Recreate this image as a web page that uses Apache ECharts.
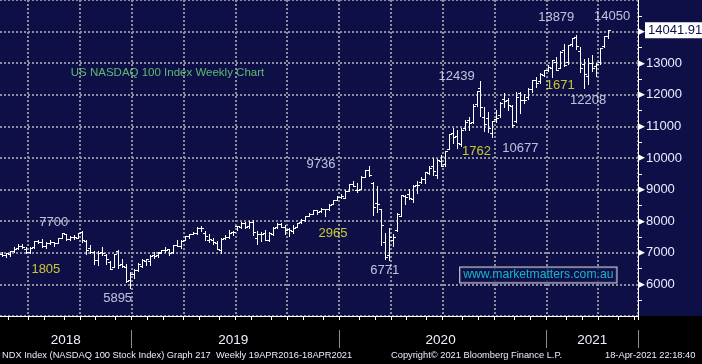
<!DOCTYPE html>
<html><head><meta charset="utf-8">
<script src="https://cdn.jsdelivr.net/npm/echarts/dist/echarts.min.js"></script>
<style>
html,body{margin:0;padding:0;background:#000;}
#c{width:702px;height:364px;background:linear-gradient(to bottom,#0f0f48 0px,#0f0f48 316px,#000 316px,#000 364px);}
</style></head><body><div id="c"></div>
<script>
// Weekly categories: first bar week ending 2018-05-18, plus empty weeks to the right edge
const firstWeek = '2018-05-18';
const padWeeks = 7;

const open = [6975,6945,6975,7060,7140,7220,7120,7040,7170,7360,
7355,7210,7310,7330,7320,7480,7590,7440,7510,7480,
7660,7380,7140,7030,6760,7010,6940,6720,6560,7050,
6640,6540,6150,6320,6450,6580,6740,6750,6930,6920,
7020,7090,7110,7010,7240,7230,7400,7530,7590,7640,
7800,7620,7420,7400,7310,7100,7480,7510,7650,7840,
7830,7950,7860,7990,7480,7580,7640,7390,7610,7820,
7900,7830,7740,7700,7820,7960,8050,8180,8230,8340,
8310,8380,8400,8540,8680,8760,8750,8970,9180,8990,
9030,9400,9620,9220,8570,8380,7350,6940,7400,7720,
8180,8800,8850,8690,9130,9240,9330,9540,9740,9450,
9900,9800,10300,10800,10700,10450,10960,11200,11150,11700,
12200,11300,11260,10800,11230,11360,11870,11830,11630,11170,
12060,11850,11930,12180,12470,12430,12620,12790,12860,13050,
12850,13420,13030,13600,13820,13400,12980,12600,13020,12900,
13050,13540,13860];
const high = [7010,7000,7065,7175,7280,7270,7180,7170,7375,7400,
7440,7330,7400,7350,7470,7630,7610,7530,7560,7640,
7700,7400,7250,7070,7050,7190,6950,6750,6970,7080,
6800,6640,6400,6480,6670,6800,6800,6930,7010,7040,
7090,7170,7120,7250,7390,7390,7540,7590,7650,7810,
7850,7690,7580,7480,7370,7460,7560,7720,7690,7860,
7960,7990,8000,8030,7690,7660,7720,7650,7820,7930,
7950,7890,7780,7870,7950,8070,8180,8260,8340,8360,
8420,8400,8560,8680,8800,8870,8980,9180,9260,9200,
9440,9630,9736,9230,9120,8400,7620,7790,7600,8270,
8840,8840,9010,9130,9270,9400,9560,9740,10000,9980,
10100,10220,10770,10960,10880,10950,11190,11300,11700,12110,
12439,11620,11440,11170,11510,11760,12050,11890,11680,12100,
12100,12030,12210,12470,12570,12690,12790,12930,13110,13190,
13400,13620,13590,13800,13879,13500,13130,13170,13270,13020,
13480,13850,14050];
const low = [6905,6880,6900,7030,7110,7150,6990,7000,7160,7300,
7190,7160,7290,7200,7300,7460,7400,7420,7450,7460,
7330,6960,6990,6630,6620,6930,6660,6480,6540,6510,
6560,6080,5895,6200,6420,6560,6620,6600,6850,6880,
6980,7030,6920,7000,7210,7140,7390,7480,7580,7610,
7700,7390,7330,7270,7120,6980,7440,7480,7560,7730,
7780,7800,7800,7570,7290,7380,7400,7360,7570,7790,
7820,7600,7520,7620,7810,7950,8000,8160,8220,8240,
8300,8180,8370,8530,8670,8720,8740,8950,9100,8920,
9020,9390,9440,8200,8300,7240,6790,6771,7200,7690,
8150,8550,8700,8610,8880,9200,9200,9500,9450,9380,
9760,9750,10290,10460,10330,10390,10880,10890,11110,11630,
11330,10870,10810,10677,11140,11290,11610,11530,10990,11150,
11430,11750,11860,12100,12240,12380,12580,12760,12570,12800,
12840,12900,12980,13550,13440,12720,12208,12340,12760,12600,
12960,13520,13800];
const close = [6935,6980,7050,7135,7230,7190,7040,7160,7365,7345,
7220,7300,7340,7310,7460,7620,7430,7500,7490,7630,
7410,7100,7030,6780,6990,6990,6800,6500,6950,6600,
6580,6100,6330,6460,6630,6780,6790,6910,6900,7000,
7080,7100,6990,7240,7220,7380,7530,7590,7640,7800,
7790,7520,7430,7330,7130,7450,7500,7640,7670,7840,
7940,7830,7990,7650,7610,7590,7410,7630,7800,7910,
7830,7720,7720,7800,7950,8040,8160,8240,8340,8300,
8400,8390,8520,8670,8760,8790,8970,9170,9110,8990,
9400,9620,9450,8460,8530,7880,6880,7500,7490,8230,
8830,8780,8720,9120,9150,9330,9550,9680,9590,9950,
9760,10210,10770,10660,10460,10900,11140,11110,11650,12110,
11620,11090,10940,11160,11280,11750,11810,11690,11050,11940,
11830,11850,12170,12460,12380,12670,12780,12890,13100,12800,
13370,12930,13570,13800,13530,12840,12670,13000,12860,12990,
13480,13850,14041.91];

// Text annotations: [category index, value position, text]
const whiteNotes = [[139,14437,'13879'],[153,14469,'14050'],[114,12594,'12439'],[130,10312,'10677'],
  [147,11812,'12208'],[80,9781,'9736'],[96,6437,'6771'],[13,7969,'7700'],[29,5562,'5895']];
const yellowNotes = [[11,6469,'1805'],[83,7625,'2965'],[119,10219,'1762'],[140,12312,'1671']];
const chartTitle = [17,12687,'US NASDAQ 100 Index Weekly Chart'];
const siteNote = [134,6297,'www.marketmatters.com.au'];
const footerLeft = 'NDX Index (NASDAQ 100 Stock Index) Graph 217  Weekly 19APR2016-18APR2021';
const footerMid = 'Copyright\u00A9 2021 Bloomberg Finance L.P.';
const footerRight = '18-Apr-2021 22:18:40';

const font = "'Liberation Sans',Arial,sans-serif";
const navy = '#0f0f48';
const gridColor = '#8e8e9a';

const categories = [];
(function(){
  let t = Date.parse(firstWeek + 'T00:00:00Z');
  for (let i = 0; i < close.length + padWeeks; i++) {
    categories.push(new Date(t).toISOString().slice(0,10));
    t += 7*86400000;
  }
})();
const mon = i => categories[i].slice(5,7);
const yr = i => categories[i].slice(0,4);
const monthStart = i => i > 0 && mon(i) !== mon(i-1);
const quarterStart = i => monthStart(i) && ['01','04','07','10'].indexOf(mon(i)) >= 0;
const yearStart = i => i > 0 && yr(i) !== yr(i-1);
const yearMid = [];
(function(){
  let s = 0;
  for (let i = 1; i <= categories.length; i++) {
    if (i === categories.length || yearStart(i)) { yearMid.push(Math.floor((s + i - 1)/2)); s = i; }
  }
})();

const ohlc = close.map((c,i) => [i, open[i], high[i], low[i], c]);
const lastClose = close[close.length-1];

function renderItem(params, api) {
  const i = api.value(0);
  const pH = api.coord([i, api.value(2)]);
  const pL = api.coord([i, api.value(3)]);
  const pO = api.coord([i, api.value(1)]);
  const pC = api.coord([i, api.value(4)]);
  const x = Math.round(pH[0]) + 0.5;
  const st = {stroke:'#ffffff', lineWidth:1};
  return {type:'group', children:[
    {type:'line', shape:{x1:x, y1:Math.round(pH[1]), x2:x, y2:Math.round(pL[1])+1}, style:st},
    {type:'line', shape:{x1:x-2.5, y1:Math.round(pO[1])+0.5, x2:x, y2:Math.round(pO[1])+0.5}, style:st},
    {type:'line', shape:{x1:x, y1:Math.round(pC[1])+0.5, x2:x+2.5, y2:Math.round(pC[1])+0.5}, style:st}
  ]};
}

const noteItems = [];
whiteNotes.forEach(n => noteItems.push({value:[n[0],n[1]], label:{formatter:n[2], color:'#e8eeff', fontSize:13, fontFamily:font, align:'center'}}));
yellowNotes.forEach(n => noteItems.push({value:[n[0],n[1]], label:{formatter:n[2], color:'#f4f42a', fontSize:13, fontFamily:font, align:'center'}}));
noteItems.push({value:[chartTitle[0],chartTitle[1]], label:{formatter:chartTitle[2], color:'#72e27a', fontSize:11.5, fontFamily:font, align:'left', offset:[1,0]}});
noteItems.push({value:[siteNote[0],siteNote[1]], label:{formatter:siteNote[2], color:'#18e0e8', fontSize:12.2, fontFamily:font, align:'center', offset:[2,0],
  borderColor:'#ffffff', borderWidth:1, backgroundColor:navy, padding:[2,3,1,3]}});

const chart = echarts.init(document.getElementById('c'), null, {renderer:'canvas'});
chart.setOption({
  animation:false,
  backgroundColor:'transparent',
  title:[
    {text:footerLeft, left:2, top:351, padding:0, textStyle:{color:'#e8ecff', fontSize:9.3, fontWeight:'normal', fontFamily:font}},
    {text:footerMid, left:391, top:351, padding:0, textStyle:{color:'#e8ecff', fontSize:9.3, fontWeight:'normal', fontFamily:font}},
    {text:footerRight, left:605, top:351, padding:0, textStyle:{color:'#e8ecff', fontSize:9.3, fontWeight:'normal', fontFamily:font}}
  ],
  grid:{left:0, right:64, top:-4, bottom:48, containLabel:false},
  xAxis:[
    {type:'category', data:categories, boundaryGap:true, position:'bottom',
     axisLine:{show:true, lineStyle:{color:'#ffffff', width:1}},
     axisTick:{show:true, interval:(i)=>monthStart(i), length:4, lineStyle:{color:'#ffffff'}},
     axisLabel:{show:false},
     splitLine:{show:true, interval:(i)=>quarterStart(i), lineStyle:{color:gridColor, type:[2,2], width:2}}},
    {type:'category', data:categories, boundaryGap:true, position:'bottom', offset:14,
     axisLine:{show:false},
     axisTick:{show:true, interval:(i)=>yearStart(i), length:18, lineStyle:{color:'#8c8c8c'}},
     axisLabel:{show:true, interval:(i)=>yearMid.indexOf(i) >= 0, formatter:(v)=>v.slice(0,4), color:'#eef2ff', fontSize:13.5, fontFamily:font, margin:3},
     splitLine:{show:false}}
  ],
  yAxis:{type:'value', position:'right', min:5000, max:15000, interval:1000,
    axisLine:{show:true, lineStyle:{color:'#ffffff', width:1}},
    axisTick:{show:false},
    minorTick:{show:true, splitNumber:2, length:4, lineStyle:{color:'#ffffff'}},
    splitLine:{show:true, lineStyle:{color:gridColor, type:[2,2], width:2}},
    axisLabel:{margin:0, formatter:(v)=> (v>=6000 && v<=14000) ? '{a|\u25B6}{b|' + v + '}' : '',
      rich:{a:{color:'#ffffff', fontSize:9, fontFamily:'DejaVu Sans', padding:[0,1,0,0]},
            b:{color:'#e8ecff', fontSize:13, fontFamily:font}}}
  },
  series:[
    {type:'custom', name:'NDX', data:ohlc, renderItem:renderItem, encode:{x:0, y:[1,2,3,4]}, z:3, silent:true,
     markLine:{symbol:'none', silent:true, lineStyle:{width:0, color:'rgba(0,0,0,0)'},
       label:{show:true, position:'end', distance:7, formatter:lastClose.toFixed(3), backgroundColor:'#ffffff', color:navy,
         fontSize:13, fontFamily:font, padding:[2,3,1,3]},
       data:[{yAxis:lastClose}]}},
    {type:'scatter', data:noteItems, symbolSize:0, silent:true, z:4,
     label:{show:true, position:[0,0], verticalAlign:'middle'}}
  ]
});
</script></body></html>
